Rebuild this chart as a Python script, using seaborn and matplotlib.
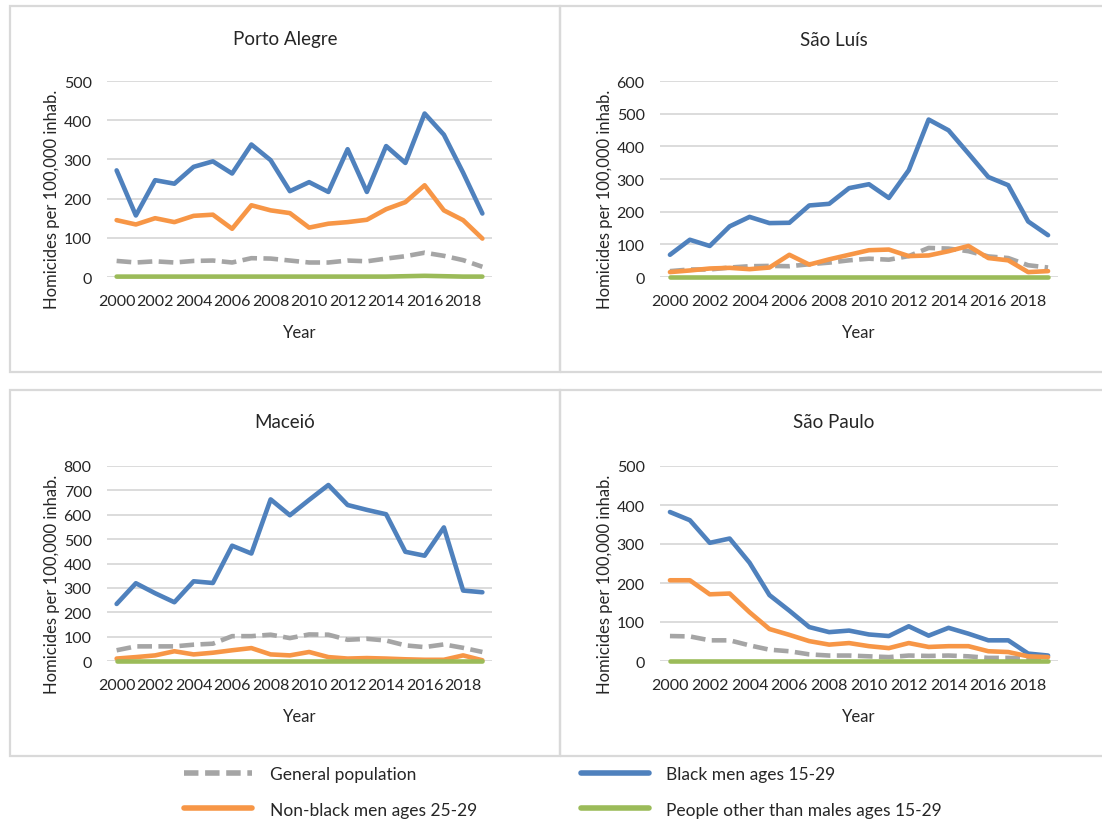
import pandas as pd
import numpy as np
import matplotlib
matplotlib.use('Agg')
import matplotlib.pyplot as plt
from matplotlib.patches import Rectangle
from matplotlib.lines import Line2D
import seaborn as sns

# 年份
years = list(range(2000, 2020))

# Porto Alegre
porto_general = [41, 37, 40, 37, 41, 42, 37, 48, 47, 42, 37, 37, 42, 40, 47, 53, 62, 54, 43, 26]
porto_black = [272, 157, 247, 238, 281, 295, 264, 338, 298, 219, 242, 217, 326, 217, 334, 291, 417, 363, 266, 162]
porto_nonblack = [145, 134, 150, 140, 156, 159, 123, 183, 170, 163, 126, 136, 140, 146, 173, 191, 234, 170, 145, 98]
porto_other = [1, 1, 1, 1, 1, 1, 1, 1, 1, 1, 1, 1, 1, 1, 1, 2, 3, 2, 1, 1]

# São Luís
sl_general = [18, 23, 23, 29, 33, 34, 33, 39, 44, 51, 56, 53, 64, 89, 87, 79, 63, 58, 36, 29]
sl_black = [68, 114, 95, 155, 184, 165, 166, 219, 224, 272, 284, 242, 327, 482, 449, 378, 306, 281, 170, 128]
sl_nonblack = [15, 20, 26, 28, 24, 29, 68, 38, 54, 68, 82, 84, 64, 66, 79, 95, 58, 51, 15, 18]
sl_other = [1] * 20

# Maceió
mc_general = [44, 60, 60, 60, 67, 71, 102, 102, 108, 94, 109, 108, 87, 91, 84, 64, 57, 68, 54, 37]
mc_black = [234, 319, 278, 241, 327, 320, 473, 441, 663, 598, 661, 722, 640, 620, 602, 448, 432, 548, 289, 282]
mc_nonblack = [10, 16, 23, 40, 27, 34, 44, 53, 27, 23, 37, 16, 10, 12, 10, 7, 5, 5, 23, 3]
mc_other = [1] * 20

# São Paulo
sp_general = [64, 63, 53, 53, 40, 29, 25, 17, 14, 14, 12, 10, 14, 13, 14, 12, 8, 8, 6, 4]
sp_black = [382, 361, 303, 314, 252, 169, 129, 87, 74, 78, 68, 64, 89, 65, 85, 70, 53, 53, 19, 14]
sp_nonblack = [207, 207, 171, 173, 125, 82, 67, 51, 42, 46, 38, 33, 46, 36, 38, 38, 25, 23, 12, 10]
sp_other = [1] * 20

series_names = ['General population', 'Black men ages 15-29',
                'Non-black men ages 25-29', 'People other than males ages 15-29']
colors = {'General population': '#A5A5A5', 'Black men ages 15-29': '#4F81BD',
          'Non-black men ages 25-29': '#F79646', 'People other than males ages 15-29': '#9BBB59'}
dashes = {'General population': (3.2, 1.4), 'Black men ages 15-29': '',
          'Non-black men ages 25-29': '', 'People other than males ages 15-29': ''}

cities = ['Porto Alegre', 'São Luís', 'Maceió', 'São Paulo']
city_data = {
    'Porto Alegre': [porto_general, porto_black, porto_nonblack, porto_other],
    'São Luís': [sl_general, sl_black, sl_nonblack, sl_other],
    'Maceió': [mc_general, mc_black, mc_nonblack, mc_other],
    'São Paulo': [sp_general, sp_black, sp_nonblack, sp_other],
}
ymax = {'Porto Alegre': 500, 'São Luís': 600, 'Maceió': 800, 'São Paulo': 500}

rows = []
for c in cities:
    for name, vals in zip(series_names, city_data[c]):
        for y, v in zip(years, vals):
            rows.append({'city': c, 'series': name, 'year': y, 'rate': v})
df = pd.DataFrame(rows)

sns.set_style('white')
plt.rcParams['font.family'] = ['Lato', 'DejaVu Sans']
text_color = '#262626'

W, H = 1102, 820
fig = plt.figure(figsize=(W / 100, H / 100), dpi=100)

# 面板位置（像素）
axes_px = {
    'Porto Alegre': (107, 82, 492, 278),
    'São Luís': (660, 82, 1058, 278),
    'Maceió': (107, 467, 492, 662),
    'São Paulo': (660, 467, 1058, 662),
}
boxes_px = {
    'Porto Alegre': (10, 7, 560, 373),
    'São Luís': (560, 7, 1112, 373),
    'Maceió': (10, 391, 560, 757),
    'São Paulo': (560, 391, 1112, 757),
}
title_y = {'Porto Alegre': 40, 'São Luís': 40, 'Maceió': 423, 'São Paulo': 423}

for c in cities:
    x0, y0, x1, y1 = boxes_px[c]
    fig.patches.append(Rectangle((x0 / W, 1 - y1 / H), (x1 - x0) / W, (y1 - y0) / H,
                                 transform=fig.transFigure, fill=False,
                                 edgecolor='#d9d9d9', lw=1.6))
    fig.text((x0 + min(x1, W + 6)) / 2 / W, 1 - title_y[c] / H, c, ha='center', va='center',
             fontsize=13.5, color=text_color)

    l, t, r, b = axes_px[c]
    ax = fig.add_axes([l / W, 1 - b / H, (r - l) / W, (b - t) / H])
    sns.lineplot(data=df[df.city == c], x='year', y='rate', hue='series', style='series',
                 hue_order=series_names, style_order=series_names, palette=colors,
                 dashes=dashes, lw=3.3, legend=False, ax=ax)
    for line in ax.lines:
        line.set_solid_capstyle('round')
        line.set_dash_capstyle('butt')
        line.set_clip_on(False)
    ax.set_xlim(1999.5, 2019.5)
    ax.set_ylim(0, ymax[c])
    ax.set_yticks(np.arange(0, ymax[c] + 1, 100))
    ax.set_xticks(range(2000, 2019, 2))
    ax.grid(axis='y', color='#d9d9d9', lw=1.3)
    ax.grid(axis='x', visible=False)
    ax.set_axisbelow(True)
    for s in ax.spines.values():
        s.set_visible(False)
    ax.tick_params(axis='both', length=0, labelsize=11.5, colors=text_color)
    ax.tick_params(axis='y', pad=11)
    ax.tick_params(axis='x', pad=12)
    ax.set_xlabel('Year', fontsize=12, color=text_color)
    ax.set_ylabel('Homicides per 100,000 inhab.', fontsize=12, color=text_color)
    ax.xaxis.set_label_coords(0.5, -0.24)
    ax.yaxis.set_label_coords(-0.122 * 385 / (r - l), 0.40)

legend_order = ['General population', 'Non-black men ages 25-29',
                'Black men ages 15-29', 'People other than males ages 15-29']
handles = []
for name in legend_order:
    h = Line2D([], [], color=colors[name], lw=4)
    if name == 'General population':
        h.set_dashes((2.6, 1.2))
    handles.append(h)
fig.legend(handles, legend_order, loc='center', bbox_to_anchor=(0.511, 1 - 793 / H), ncol=2,
           frameon=False, fontsize=12.5, handlelength=3.9, handletextpad=1.0,
           columnspacing=6.0, labelspacing=1.1, labelcolor=text_color)

plt.savefig('out.png', dpi=100)
